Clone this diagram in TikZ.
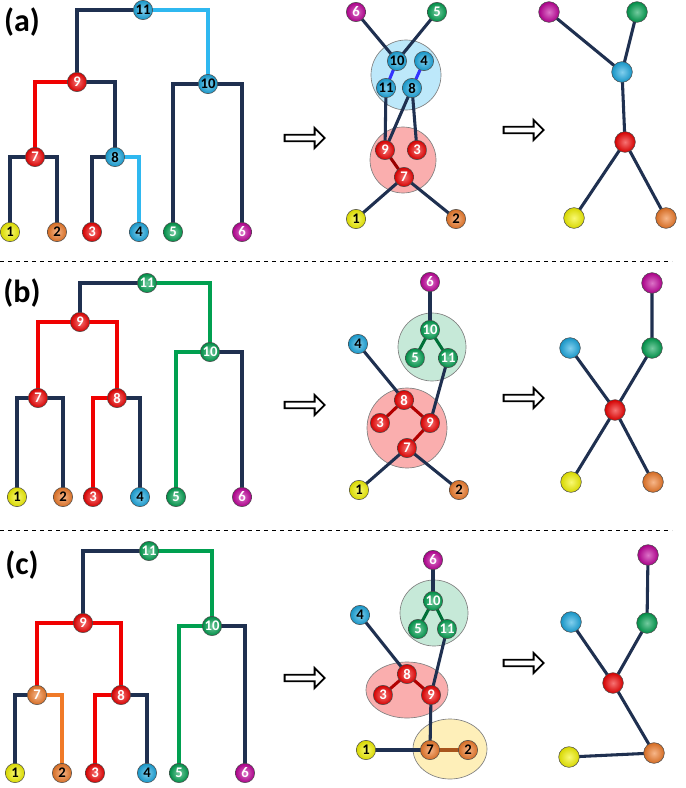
\documentclass[tikz,border=0pt]{standalone}
\usepackage{fontspec}
\setmainfont{Carlito}
\usetikzlibrary{shapes.arrows}
\definecolor{navy}{HTML}{1F3050}
\definecolor{cR}{HTML}{F00000}
\definecolor{cB}{HTML}{1AA8E0}
\definecolor{cLB}{HTML}{2FB8F0}
\definecolor{cG}{HTML}{00A050}
\definecolor{cO}{HTML}{F07A28}
\definecolor{cY}{HTML}{F4F400}
\definecolor{cM}{HTML}{C0009A}
\begin{document}
\begin{tikzpicture}[x=0.75pt,y=-0.75pt,
 b/.style={circle,inner sep=0pt,minimum size=14.5pt,inner color=#1!55!white,outer color=#1!88!black,draw=black!70,line width=0.4pt,font=\bfseries\fontsize{11}{12}\selectfont,text=white},
 bk/.style={b=#1,text=black},
 big/.style={circle,inner sep=0pt,minimum size=15.5pt,inner color=#1!55!white,outer color=#1!88!black,draw=black!70,line width=0.4pt},
 t/.style={line width=2.3pt,draw=navy},
 e/.style={line width=2.3pt,draw=navy},
 grp/.style={draw=black!50,line width=0.5pt,fill=#1,fill opacity=0.45},
 arr/.style={single arrow,draw=black,line width=1.4pt,fill=white,minimum width=15pt,minimum height=30pt,single arrow head extend=3.5pt,inner sep=1pt},
 lab/.style={font=\bfseries\fontsize{24}{28}\selectfont}]
\useasboundingbox (0,0) rectangle (685,788);
\draw[dashed,line width=0.6pt] (0,261) -- (672,261);
\draw[dashed,line width=0.6pt] (0,530) -- (672,530);
\node[lab] (la) at (22,22) {(a)};
\node[lab] (lb) at (22,293) {(b)};
\node[lab] (lc) at (22,565) {(c)};
% ===== (a) dendrogram =====
\draw[t] (77,82) |- (143,10); \draw[t,draw=cLB] (143,10) -| (208,84);
\draw[t,draw=cR] (77,82) -| (35,157); \draw[t] (77,82) -| (115,157);
\draw[t] (10,232) |- (57,157) -- (57,232);
\draw[t] (92,232) |- (115,157); \draw[t,draw=cLB] (115,157) -| (139,232);
\draw[t] (173,232) |- (242,84) -- (242,232);
\node[bk=cB] (a11) at (143,10) {11};
\node[b=cR] (a9) at (77,82) {9};
\node[bk=cB] (a10) at (208,84) {10};
\node[b=cR] (a7) at (35,157) {7};
\node[bk=cB] (a8) at (115,157) {8};
\node[bk=cY] (a1) at (10,232) {1};
\node[bk=cO] (a2) at (57,232) {2};
\node[b=cR] (a3) at (92,232) {3};
\node[bk=cB] (a4) at (139,232) {4};
\node[b=cG] (a5) at (173,232) {5};
\node[b=cM] (a6) at (242,232) {6};
% (a) middle
\draw[grp=cLB!70] (406,75) circle (35);
\draw[grp=cR!70] (403,160) circle (33);
\coordinate (ma10) at (397,61); \coordinate (ma4) at (424,61);
\coordinate (ma11) at (386,88); \coordinate (ma8) at (412,88);
\coordinate (ma9) at (385,150); \coordinate (ma3) at (417,150);
\coordinate (ma7) at (404,177);
\coordinate (ma6) at (356,12); \coordinate (ma5) at (437,12);
\coordinate (ma1) at (356,219); \coordinate (ma2) at (456,219);
\draw[e] (ma6) -- (ma10); \draw[e] (ma5) -- (ma10);
\draw[e,draw=blue!80] (ma10) -- (ma11); \draw[e,draw=blue!80] (ma4) -- (ma8);
\draw[e] (ma11) -- (ma9); \draw[e] (ma8) -- (ma9); \draw[e] (ma8) -- (ma3);
\draw[e,draw=red!60!black] (ma9) -- (ma7);
\draw[e] (ma7) -- (ma1); \draw[e] (ma7) -- (ma2);
\node[b=cM] (mb6) at (ma6) {6};
\node[b=cG] (mb5) at (ma5) {5};
\node[bk=cB] (m10) at (ma10) {10};
\node[bk=cB] (m4) at (ma4) {4};
\node[bk=cB] (m11) at (ma11) {11};
\node[bk=cB] (m8) at (ma8) {8};
\node[b=cR] (m9) at (ma9) {9};
\node[b=cR] (m3) at (ma3) {3};
\node[b=cR] (m7) at (ma7) {7};
\node[bk=cY] (m1) at (ma1) {1};
\node[bk=cO] (m2) at (ma2) {2};
% (a) right
\coordinate (ra6) at (549,12); \coordinate (ra5) at (637,12); \coordinate (rab) at (622,72);
\coordinate (rar) at (625,142); \coordinate (ra1) at (574,218); \coordinate (ra2) at (666,218);
\draw[e] (ra6) -- (rab) -- (ra5); \draw[e] (rab) -- (rar);
\draw[e] (ra1) -- (rar) -- (ra2);
\node[big=cM] (r6) at (ra6) {};
\node[big=cG] (r5) at (ra5) {};
\node[big=cB] (rb) at (rab) {};
\node[big=cR] (rr) at (rar) {};
\node[big=cY] (r1) at (ra1) {};
\node[big=cO] (r2) at (ra2) {};
\node[arr] (ar1) at (303,138) {};
\node[arr] (ar2) at (522,130) {};
% ===== (b) dendrogram =====
\draw[t] (80,322) |- (147,283); \draw[t,draw=cG] (147,283) -| (210,352);
\draw[t,draw=cR] (38,398) |- (117,322) -- (117,398);
\draw[t] (17,497) |- (63,398) -- (63,497);
\draw[t,draw=cR] (93,497) |- (117,398); \draw[t] (117,398) -| (140,497);
\draw[t,draw=cG] (176,497) |- (210,352); \draw[t] (210,352) -| (242,497);
\node[b=cG] (b11) at (147,283) {11};
\node[b=cR] (b9) at (80,322) {9};
\node[b=cG] (b10) at (210,352) {10};
\node[b=cR] (b7) at (38,398) {7};
\node[b=cR] (b8) at (117,398) {8};
\node[bk=cY] (b1) at (17,497) {1};
\node[bk=cO] (b2) at (63,497) {2};
\node[b=cR] (b3) at (93,497) {3};
\node[bk=cB] (b4) at (140,497) {4};
\node[b=cG] (b5) at (176,497) {5};
\node[b=cM] (b6) at (242,497) {6};
% (b) middle
\draw[grp=cG!50] (432,347) circle (34);
\draw[grp=cR!70] (407,428) circle (40);
\coordinate (mb10c) at (430,330); \coordinate (mb5c) at (415,358); \coordinate (mb11c) at (448,358);
\coordinate (mb8c) at (404,400); \coordinate (mb3c) at (380,423); \coordinate (mb9c) at (430,423); \coordinate (mb7c) at (407,448);
\draw[e] (430,282) -- (mb10c);
\draw[e,draw=cG!70!black] (mb5c) -- (mb10c) -- (mb11c);
\draw[e] (mb11c) -- (mb9c); \draw[e] (358,344) -- (mb8c);
\draw[e,draw=red!70!black] (mb3c) -- (mb8c) -- (mb9c) -- (mb7c);
\draw[e] (359,490) -- (mb7c) -- (459,490);
\node[b=cM] (n6) at (430,282) {6};
\node[b=cG] (n10) at (mb10c) {10};
\node[b=cG] (n5) at (mb5c) {5};
\node[b=cG] (n11) at (mb11c) {11};
\node[bk=cB] (n4) at (358,344) {4};
\node[b=cR] (n8) at (mb8c) {8};
\node[b=cR] (n3) at (mb3c) {3};
\node[b=cR] (n9) at (mb9c) {9};
\node[b=cR] (n7) at (mb7c) {7};
\node[bk=cY] (n1) at (359,490) {1};
\node[bk=cO] (n2) at (459,490) {2};
% (b) right
\coordinate (s6) at (652,283); \coordinate (sg) at (652,348); \coordinate (s4) at (570,348);
\coordinate (sr) at (615,410); \coordinate (s1) at (571,482); \coordinate (s2) at (653,482);
\draw[e] (s6) -- (sg) -- (sr) -- (s4); \draw[e] (s1) -- (sr) -- (s2);
\node[big=cM] (q6) at (s6) {}; \node[big=cG] (qg) at (sg) {}; \node[big=cB] (q4) at (s4) {};
\node[big=cR] (qr) at (sr) {}; \node[big=cY] (q1) at (s1) {}; \node[big=cO] (q2) at (s2) {};
\node[arr] (ar3) at (303,405) {};
\node[arr] (ar4) at (522,398) {};
% ===== (c) dendrogram =====
\draw[t] (83,623) |- (149,551); \draw[t,draw=cG] (149,551) -| (212,626);
\draw[t,draw=cR] (37,695) |- (121,623) -- (121,695);
\draw[t] (15,773) |- (37,695); \draw[t,draw=cO] (37,695) -| (62,773);
\draw[t,draw=cR] (95,773) |- (121,695); \draw[t] (121,695) -| (147,773);
\draw[t,draw=cG] (179,773) |- (212,626); \draw[t] (212,626) -| (245,773);
\node[b=cG] (c11) at (149,551) {11};
\node[b=cR] (c9) at (83,623) {9};
\node[b=cG] (c10) at (212,626) {10};
\node[b=cO] (c7) at (37,695) {7};
\node[b=cR] (c8) at (121,695) {8};
\node[bk=cY] (c1) at (15,773) {1};
\node[bk=cO] (c2) at (62,773) {2};
\node[b=cR] (c3) at (95,773) {3};
\node[bk=cB] (c4) at (147,773) {4};
\node[b=cG] (c5) at (179,773) {5};
\node[b=cM] (c6) at (245,773) {6};
% (c) middle
\draw[grp=cG!50] (434,613) ellipse (34 and 33);
\draw[grp=cR!70] (407,690) ellipse (41 and 28);
\draw[grp=yellow!60!orange!60] (450,749) ellipse (37 and 30);
\coordinate (k10) at (433,601); \coordinate (k5) at (418,629); \coordinate (k11) at (447,629);
\coordinate (k8) at (407,674); \coordinate (k3) at (383,695); \coordinate (k9) at (431,695);
\coordinate (k7) at (430,750); \coordinate (k2) at (468,750);
\draw[e] (433,560) -- (k10);
\draw[e,draw=cG!70!black] (k5) -- (k10) -- (k11);
\draw[e] (k11) -- (k9); \draw[e] (360,615) -- (k8);
\draw[e,draw=red!70!black] (k3) -- (k8) -- (k9);
\draw[e] (k9) -- (k7); \draw[e] (366,750) -- (k7);
\draw[e,draw=cO!70!black] (k7) -- (k2);
\node[b=cM] (p6) at (433,560) {6};
\node[b=cG] (p10) at (k10) {10};
\node[b=cG] (p5) at (k5) {5};
\node[b=cG] (p11) at (k11) {11};
\node[bk=cB] (p4) at (360,615) {4};
\node[b=cR] (p8) at (k8) {8};
\node[b=cR] (p3) at (k3) {3};
\node[b=cR] (p9) at (k9) {9};
\node[bk=cO] (p7) at (k7) {7};
\node[bk=cO] (p2) at (k2) {2};
\node[bk=cY] (p1) at (366,750) {1};
% (c) right
\coordinate (u6) at (648,555); \coordinate (ug) at (647,623); \coordinate (u4) at (571,622);
\coordinate (ur) at (613,683); \coordinate (u1) at (569,757); \coordinate (u2) at (654,753);
\draw[e] (u6) -- (ug) -- (ur) -- (u4); \draw[e] (ur) -- (u2) -- (u1);
\node[big=cM] (w6) at (u6) {}; \node[big=cG] (wg) at (ug) {}; \node[big=cB] (w4) at (u4) {};
\node[big=cR] (wr) at (ur) {}; \node[big=cY] (w1) at (u1) {}; \node[big=cO] (w2) at (u2) {};
\node[arr] (ar5) at (303,678) {};
\node[arr] (ar6) at (522,663) {};
\end{tikzpicture}
\end{document}
